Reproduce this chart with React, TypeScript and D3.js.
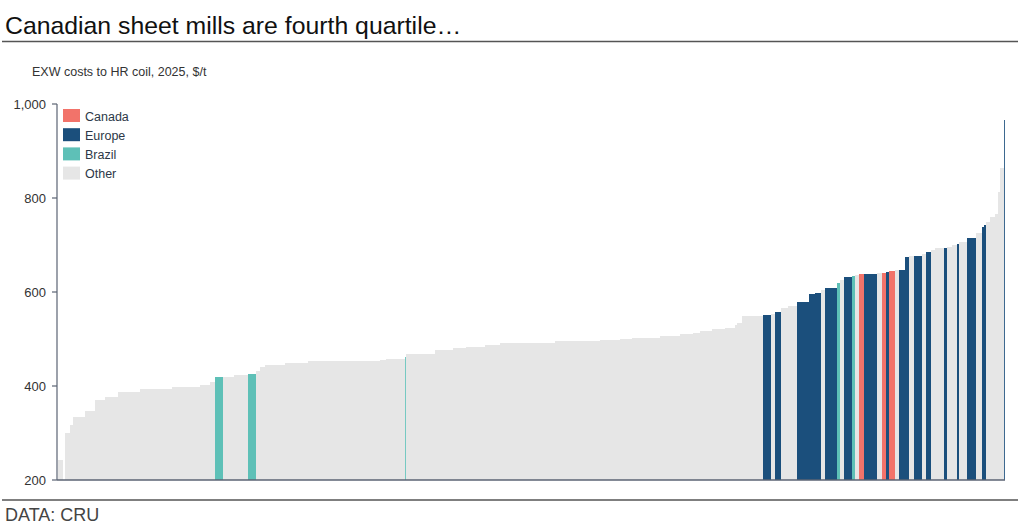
import React from "react";
import * as d3 from "d3";

const title = "Canadian sheet mills are fourth quartile…";
const subtitle = "EXW costs to HR coil, 2025, $/t";
const source = "DATA: CRU";

// Cost curve: each mill's capacity (bar width) and cost (bar height), in cost order
const capacity = [
  5, 2, 5, 3, 12, 10, 10, 13, 22, 32, 28, 10, 5, 8, 11, 14, 8, 4, 5, 20,
  23, 72, 6, 19, 0.8, 29.2, 18, 13, 19, 15, 40, 15, 45, 20, 12, 28, 20, 13, 7, 12,
  13, 10, 2, 5, 21, 8, 4, 6, 7, 9, 12, 6, 6, 4, 12, 3, 4, 8, 3, 4,
  5, 13, 5, 4, 3, 6, 4, 6, 4, 5, 8, 4, 5, 4, 9, 3, 5, 5, 2, 8,
  9, 6, 2, 2, 4, 5, 3, 2, 4, 0.8,
];
const cost = [
  242, 200, 300, 317, 334, 347, 370, 377, 387, 393, 398, 403, 408, 419, 420, 423, 425, 432, 440, 444,
  449, 453, 455, 458, 462, 468, 477, 481, 484, 488, 491, 492, 495, 497, 500, 503, 506, 510, 513, 517,
  521, 524, 530, 534, 548, 552, 553, 557, 566, 570, 578, 595, 598, 604, 609, 619, 625, 632, 634, 636,
  638, 638, 640, 641, 642, 645, 646, 647, 675, 676, 677, 680, 685, 690, 693, 694, 696, 700, 702, 706,
  715, 726, 738, 742, 750, 760, 766, 813, 864, 966,
];
const region = [
  "O", "O", "O", "O", "O", "O", "O", "O", "O", "O", "O", "O", "O", "B", "O", "O", "B", "O", "O", "O",
  "O", "O", "O", "O", "B", "O", "O", "O", "O", "O", "O", "O", "O", "O", "O", "O", "O", "O", "O", "O",
  "O", "O", "O", "O", "O", "E", "O", "E", "O", "O", "E", "E", "E", "O", "E", "B", "O", "E", "B", "O",
  "C", "E", "O", "C", "E", "C", "O", "E", "E", "O", "E", "O", "E", "O", "O", "E", "O", "O", "E", "O",
  "E", "O", "E", "E", "O", "O", "O", "O", "O", "E",
];

const legendKeys = ["C", "E", "B", "O"];
const legendLabels = ["Canada", "Europe", "Brazil", "Other"];
const legendColors = ["#f2736a", "#1b4f7c", "#5ec0b7", "#e6e6e6"];

const yTicks = [200, 400, 600, 800, 1000];

export default function App() {
  const W = 1024;
  const H = 525;
  const left = 58;
  const right = 1005;
  const top = 104;
  const bottom = 480;

  const total = d3.sum(capacity);
  const x = d3.scaleLinear().domain([0, total]).range([left, right]);
  const y = d3.scaleLinear().domain([200, 1000]).range([bottom, top]);
  const color = d3.scaleOrdinal<string, string>().domain(legendKeys).range(legendColors);
  const fmt = d3.format(",");

  let acc = 0;
  const bars = capacity.map((c, i) => {
    const x0 = acc;
    acc += c;
    return { x0, x1: acc, v: cost[i], r: region[i] };
  });
  const ordered = [...bars.filter((b) => b.r === "O"), ...bars.filter((b) => b.r !== "O")];

  const axisColor = "#5b6373";

  return (
    <svg
      width={W}
      height={H}
      style={{ position: "absolute", left: 0, top: 0, fontFamily: "'Liberation Sans', Arial, sans-serif" }}
    >
      <rect width={W} height={H} fill="#fff" />
      <text x={5} y={34} fontSize={24.8} fill="#111">{title}</text>
      <line x1={2} x2={1018} y1={41.5} y2={41.5} stroke="#555" strokeWidth={1.6} />
      <text x={32} y={76} fontSize={12.5} fill="#333">{subtitle}</text>

      {ordered.map((b, i) => {
        const w = x(b.x1) - x(b.x0);
        if (b.v <= 200) return null;
        const thin = w < 1.5;
        return (
          <rect
            key={i}
            x={thin ? Math.round(x(b.x0)) : x(b.x0)}
            y={y(b.v)}
            width={thin ? 1 : w}
            height={y(200) - y(b.v)}
            fill={color(b.r)}
            fillOpacity={thin ? 0.85 : 1}
            shapeRendering="crispEdges"
          />
        );
      })}

      {/* y axis */}
      <line x1={57} x2={57} y1={top} y2={bottom} stroke={axisColor} strokeWidth={1.2} />
      {yTicks.map((t) => (
        <g key={t}>
          <line x1={52} x2={57} y1={y(t)} y2={y(t)} stroke={axisColor} strokeWidth={1.2} />
          <text x={46} y={y(t) + 4.5} fontSize={13} textAnchor="end" fill="#333">
            {fmt(t)}
          </text>
        </g>
      ))}
      <line x1={57} x2={right} y1={bottom} y2={bottom} stroke={axisColor} strokeWidth={1.5} />

      {/* legend */}
      {legendKeys.map((k, i) => (
        <g key={k}>
          <rect x={63} y={109 + i * 19.2} width={17} height={13} fill={legendColors[i]} />
          <text x={85} y={120.5 + i * 19.2} fontSize={12.5} fill="#2c3848">
            {legendLabels[i]}
          </text>
        </g>
      ))}

      <line x1={2} x2={1018} y1={500} y2={500} stroke="#555" strokeWidth={1.4} />
      <text x={5} y={521} fontSize={18} fill="#444">{source}</text>
    </svg>
  );
}
